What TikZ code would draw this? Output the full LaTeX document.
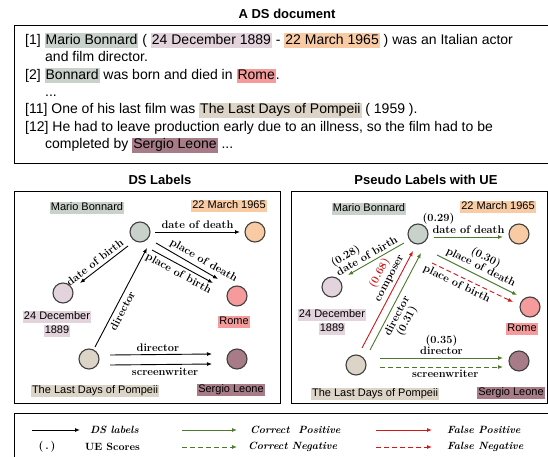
\documentclass[tikz,border=0pt]{standalone}
\usepackage{fontspec}
\setsansfont{Liberation Sans}
\usetikzlibrary{positioning,calc,arrows.meta}

\definecolor{mbc}{HTML}{C9D1CB}
\definecolor{marc}{HTML}{F9CBA4}
\definecolor{decc}{HTML}{E3D3DC}
\definecolor{romec}{HTML}{F59B9B}
\definecolor{lpc}{HTML}{DCD5C7}
\definecolor{slc}{HTML}{A77B87}
\definecolor{cpgreen}{HTML}{4C7A2C}
\definecolor{fpred}{HTML}{D01818}

\newcommand{\hlt}[2]{{\setlength{\fboxsep}{1pt}\colorbox{#1}{\vphantom{Apg}#2}}}

\begin{document}
\begin{tikzpicture}[x=1pt,y=-1pt,node distance=2cm,on grid,
   ent/.style={circle,draw=black!75,line width=1.1pt,minimum size=20pt,inner sep=0pt},
   lab/.style={font=\sffamily\fontsize{11}{14}\selectfont,inner sep=0pt,align=center},
   rel/.style={font=\fontsize{11}{11}\selectfont\bfseries,text=black,inner sep=3pt,align=center},
   ttl/.style={font=\sffamily\bfseries\fontsize{13}{15}\selectfont},
   key/.style={font=\fontsize{10.5}{12}\selectfont\bfseries\itshape,anchor=west,inner sep=0pt},
   ds/.style={->,line width=0.9pt,black},
   cp/.style={->,line width=0.9pt,cpgreen},
   cn/.style={cp,dash pattern=on 5pt off 3pt},
   fp/.style={->,line width=0.9pt,fpred},
   fn/.style={fp,dash pattern=on 5pt off 3pt},
   >={Latex[length=5pt,width=4pt]}]
   \useasboundingbox (0,0) rectangle (548,457);
   \clip (0,0) rectangle (548,457);

   % the document
   \node[ttl] (t_doc) at (287,14) {A DS document};
   \draw[line width=0.9pt] (14,25) rectangle (560,163);
   \node[font=\sffamily\fontsize{14}{17.4}\selectfont,align=left,inner sep=0pt,anchor=north west] (txt) at (25,33)
   {{[1]} \hlt{mbc}{Mario Bonnard} ( \hlt{decc}{24 December 1889} - \hlt{marc}{22 March 1965} ) was an Italian actor\\
    \hspace*{20pt}and film director.\\
    {[2]} \hlt{mbc}{Bonnard} was born and died in \hlt{romec}{Rome}.\\
    \hspace*{20pt}...\\
    {[11]} One of his last film was \hlt{lpc}{The Last Days of Pompeii} ( 1959 ).\\
    {[12]} He had to leave production early due to an illness, so the film had to be\\
    \hspace*{20pt}completed by \hlt{slc}{Sergio Leone} ...};

   % DS labels
   \node[ttl] (t_ds) at (160,180) {DS Labels};
   \draw[line width=0.9pt] (14,191) rectangle (280,403);
   \node[ent,fill=mbc] (mb_0) at (140,232) {};
   \node[ent,fill=marc] (dd_0) [right=115pt of mb_0] {};
   \node[ent,fill=decc] (db_0) [below left=61pt and 77pt of mb_0] {};
   \node[ent,fill=romec] (rm_0) [below right=64pt and 97pt of mb_0] {};
   \node[ent,fill=lpc] (lp_0) [below left=127pt and 51pt of mb_0] {};
   \node[ent,fill=slc] (sl_0) [right=148pt of lp_0] {};
   \node[lab] (mbl_0) [above left=24pt and 53pt of mb_0] {\hlt{mbc}{Mario Bonnard}};
   \node[lab] (ddl_0) [above left=26pt and 26pt of dd_0] {\hlt{marc}{22 March 1965}};
   \node[lab] (dbl_0) [below left=31pt and 6pt of db_0] {\hlt{decc}{24 December}\\\hlt{decc}{1889}};
   \node[lab] (rml_0) [below left=26pt and 3pt of rm_0] {\hlt{romec}{Rome}};
   \node[lab] (lpl_0) [below right=32pt and 6pt of lp_0] {\hlt{lpc}{The Last Days of Pompeii}};
   \node[lab] (sll_0) [below left=31pt and 6pt of sl_0] {\hlt{slc}{Sergio Leone}};
   \path
   ($(mb_0)+(15,0)$) edge[ds] node[rel,above] {date of death} ($(dd_0)+(-15,0)$)
   ($(mb_0)+(-12,14)$) edge[ds] node[rel,above,sloped,pos=0.6] {date of birth} ($(db_0)+(17,-10)$)
   ($(mb_0)+(16,11)$) edge[ds] node[rel,above,sloped,pos=0.7] {place of death} ($(rm_0)+(-19,-17)$)
   ($(mb_0)+(12,18)$) edge[ds] node[rel,below,sloped] {place of birth} ($(rm_0)+(-24,-13)$)
   ($(lp_0)+(6,-12)$) edge[ds] node[rel,below,sloped,pos=0.4] {director} ($(mb_0)+(7,16)$)
   ($(lp_0)+(21,-4)$) edge[ds] node[rel,above,pos=0.47] {director} ($(sl_0)+(-25,-5)$)
   ($(lp_0)+(21,6)$) edge[ds] node[rel,below,pos=0.54] {screenwriter} ($(sl_0)+(-25,5)$);

   % pseudo labels with UE
   \node[ttl] (t_ue) at (426,180) {Pseudo Labels with UE};
   \draw[line width=0.9pt] (291,191) rectangle (547,403);
   \node[ent,fill=mbc] (mb_1) at (418,234) {};
   \node[ent,fill=marc] (dd_1) [right=101pt of mb_1] {};
   \node[ent,fill=decc] (db_1) [below left=53pt and 86pt of mb_1] {};
   \node[ent,fill=romec] (rm_1) [below right=73pt and 112pt of mb_1] {};
   \node[ent,fill=lpc] (lp_1) [below left=131pt and 62pt of mb_1] {};
   \node[ent,fill=slc] (sl_1) [above right=4pt and 163pt of lp_1] {};
   \node[lab] (mbl_1) [above left=25pt and 49pt of mb_1] {\hlt{mbc}{Mario Bonnard}};
   \node[lab] (ddl_1) [above left=27pt and 21pt of dd_1] {\hlt{marc}{22 March 1965}};
   \node[lab] (dbl_1) [below=35pt of db_1] {\hlt{decc}{24 December}\\\hlt{decc}{1889}};
   \node[lab] (rml_1) [below left=22pt and 8pt of rm_1] {\hlt{romec}{Rome}};
   \node[lab] (lpl_1) [below right=29pt and 19pt of lp_1] {\hlt{lpc}{The Last Days of Pompeii}};
   \node[lab] (sll_1) [below left=32pt and 8pt of sl_1] {\hlt{slc}{Sergio Leone}};
   \path
   ($(mb_1)+(16,3)$) edge[cp] node[rel,above] (ddr_1) {date of death} ($(dd_1)+(-16,3)$)
   ($(mb_1)+(-14,9)$) edge[cp] node[rel,above,sloped,pos=0.6,align=left] {(0.28)\\date of birth} ($(db_1)+(16,-12)$)
   ($(mb_1)+(19,21)$) edge[cp] node[rel,above,sloped] {(0.30)\\place of death} ($(rm_1)+(-13,-12)$)
   ($(mb_1)+(14,29)$) edge[fn] node[rel,below,sloped,pos=0.35] {place of birth} ($(rm_1)+(-17,-5)$)
   ($(lp_1)+(6,-17)$) edge[fp] node[rel,above,sloped,pos=0.68] {{\color{fpred}(0.68)}\\composer} ($(mb_1)+(-5,17)$)
   ($(lp_1)+(14,-15)$) edge[cp] node[rel,below,sloped,pos=0.39] {director\\(0.31)} ($(mb_1)+(3,19)$)
   ($(lp_1)+(24,-7)$) edge[cp] node[rel,above] {(0.35)\\director} ($(sl_1)+(-16,-3)$)
   ($(lp_1)+(24,2)$) edge[cn] node[rel,below,pos=0.53] {screenwriter} ($(sl_1)+(-16,6)$);
   \node[rel] (ue_dd) [above left=11pt and 30pt of ddr_1] {(0.29)};

   % legend
   \draw[line width=0.9pt] (14,413) rectangle (560,470);
   \coordinate (k_0) at (32,430);  \coordinate (k_1) at (80,430);
   \coordinate (k_2) at (182,430); \coordinate (k_3) at (237,430);
   \coordinate (k_4) at (182,447); \coordinate (k_5) at (237,447);
   \coordinate (k_6) at (376,430); \coordinate (k_7) at (432,430);
   \coordinate (k_8) at (376,447); \coordinate (k_9) at (432,447);
   \draw[ds] (k_0) -- (k_1);
   \draw[cp] (k_2) -- (k_3);
   \draw[cn] (k_4) -- (k_5);
   \draw[fp] (k_6) -- (k_7);
   \draw[fn] (k_8) -- (k_9);
   \node[key] (kl_0) at (90,430) {DS labels};
   \node[rel,inner sep=0pt] (kl_1) at (47,447) {(\,.\,)};
   \node[key,font=\fontsize{10.5}{12}\selectfont\bfseries] (kl_2) at (85,447) {UE Scores};
   \node[key] (kl_3) at (250,430) {Correct\ \ Positive};
   \node[key] (kl_4) at (248,447) {Correct Negative};
   \node[key] (kl_5) at (447,430) {False Positive};
   \node[key] (kl_6) at (447,447) {False Negative};
\end{tikzpicture}
\end{document}
